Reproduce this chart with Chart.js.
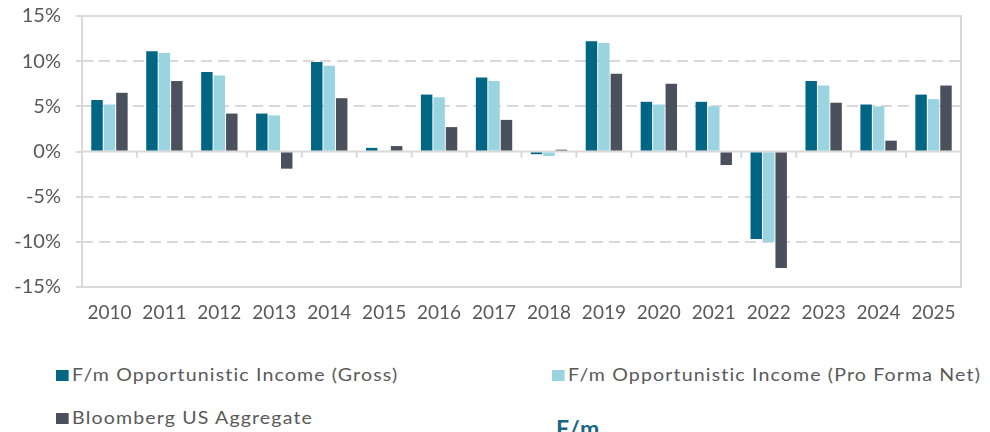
<!DOCTYPE html>
<html>
<head>
<meta charset="utf-8">
<script src="https://cdn.jsdelivr.net/npm/chart.js@4/dist/chart.umd.min.js"></script>
<style>
  html, body { margin: 0; padding: 0; background: #fff; overflow: hidden; }
  #wrap { position: relative; width: 990px; height: 432px; overflow: hidden; font-family: Lato, "Open Sans", sans-serif; }
  #chart { position: absolute; left: 0; top: 0; }
  .leg { position: absolute; color: #595959; font-size: 17px; letter-spacing: 1px; white-space: nowrap; line-height: 20px; transform: scaleX(1.15); transform-origin: 0 0; }
  .leg i { display: inline-block; width: 11px; height: 11px; margin-right: 3px; vertical-align: 0px; }
  #logo { position: absolute; left: 556px; top: 414px; color: #1A6684; font-weight: 700; font-size: 23px; letter-spacing: 1px; }
</style>
</head>
<body>
<div id="wrap">
  <canvas id="chart" width="990" height="340"></canvas>
  <div id="legend"></div>
  <div id="logo">F/m</div>
</div>
<script>
// ==================== DATA ====================
const years = ['2010','2011','2012','2013','2014','2015','2016','2017','2018','2019','2020','2021','2022','2023','2024','2025'];
const grossVals = [5.7, 11.1, 8.8, 4.2, 9.9, 0.4, 6.3, 8.2, -0.3, 12.2, 5.5, 5.5, -9.7, 7.8, 5.2, 6.3];
const netVals   = [5.2, 10.9, 8.4, 4.0, 9.5, 0.1, 6.0, 7.8, -0.5, 12.0, 5.2, 5.0, -10.0, 7.3, 5.0, 5.8];
const aggVals   = [6.5, 7.8, 4.2, -1.9, 5.9, 0.6, 2.7, 3.5, 0.2, 8.6, 7.5, -1.5, -12.9, 5.4, 1.2, 7.3];
const seriesNames = ['F/m Opportunistic Income (Gross)', 'F/m Opportunistic Income (Pro Forma Net)', 'Bloomberg US Aggregate'];
const yTicks = [-15, -10, -5, 0, 5, 10, 15];

const colors = ['#006684', '#9AD4E1', '#4A505C'];
const gridColor = '#D9D9D9';
const textColor = '#595959';

// frame, zero line and the little category ticks on the zero line
const framePlugin = {
  id: 'frame',
  beforeDatasetsDraw(chart) {
    const { ctx, chartArea: a, scales } = chart;
    const y0 = scales.y.getPixelForValue(0);
    ctx.save();
    ctx.strokeStyle = gridColor;
    ctx.lineWidth = 2;
    ctx.beginPath();
    ctx.moveTo(a.left, y0); ctx.lineTo(a.right, y0);
    const step = scales.x.width / years.length;
    for (let i = 0; i <= years.length; i++) {
      const x = scales.x.getPixelForValue(0) - step / 2 + i * step;
      ctx.moveTo(x, y0); ctx.lineTo(x, y0 + 6);
    }
    ctx.stroke();
    ctx.restore();
  },
  afterDraw(chart) {
    const { ctx, chartArea: a } = chart;
    ctx.save();
    ctx.strokeStyle = gridColor;
    ctx.lineWidth = 2;
    ctx.strokeRect(a.left, a.top, a.right - a.left, a.bottom - a.top);
    ctx.restore();
  }
};

new Chart(document.getElementById('chart'), {
  type: 'bar',
  data: {
    labels: years,
    datasets: [grossVals, netVals, aggVals].map((d, i) => ({
      label: seriesNames[i], data: d, backgroundColor: colors[i], borderWidth: 0,
      categoryPercentage: 0.68, barPercentage: 0.92
    }))
  },
  options: {
    responsive: false,
    devicePixelRatio: 1,
    animation: false,
    layout: { padding: { top: 16, right: 29, bottom: 0, left: 0 } },
    plugins: { legend: { display: false }, tooltip: { enabled: false } },
    scales: {
      x: {
        grid: { display: true, drawOnChartArea: false, drawTicks: false },
        border: { display: false },
        ticks: { color: textColor, font: { family: 'Lato', size: 19 }, padding: 14, maxRotation: 0 },
        afterFit(s) { s.height = 53; }
      },
      y: {
        min: -15, max: 15,
        afterBuildTicks(s) { s.ticks = yTicks.map(v => ({ value: v })); },
        grid: {
          color: c => (c.tick && (c.tick.value === 0 || Math.abs(c.tick.value) === 15)) ? 'rgba(0,0,0,0)' : gridColor,
          tickColor: gridColor, lineWidth: 2, tickLength: 6
        },
        border: { display: false, dash: [11, 6] },
        ticks: { color: textColor, font: { family: 'Lato', size: 20 }, padding: 15, callback: v => v + '%' },
        afterFit(s) { s.width = 82; s.paddingTop = 0; s.paddingBottom = 0; }
      }
    }
  },
  plugins: [framePlugin]
});

// ==================== LEGEND ====================
const legendPos = [[56, 365], [552, 365], [56, 408]];
const legend = document.getElementById('legend');
seriesNames.forEach((name, i) => {
  const el = document.createElement('div');
  el.className = 'leg';
  el.style.left = legendPos[i][0] + 'px';
  el.style.top = legendPos[i][1] + 'px';
  el.innerHTML = `<i style="background:${colors[i]}"></i>${name}`;
  legend.appendChild(el);
});
</script>
</body>
</html>
